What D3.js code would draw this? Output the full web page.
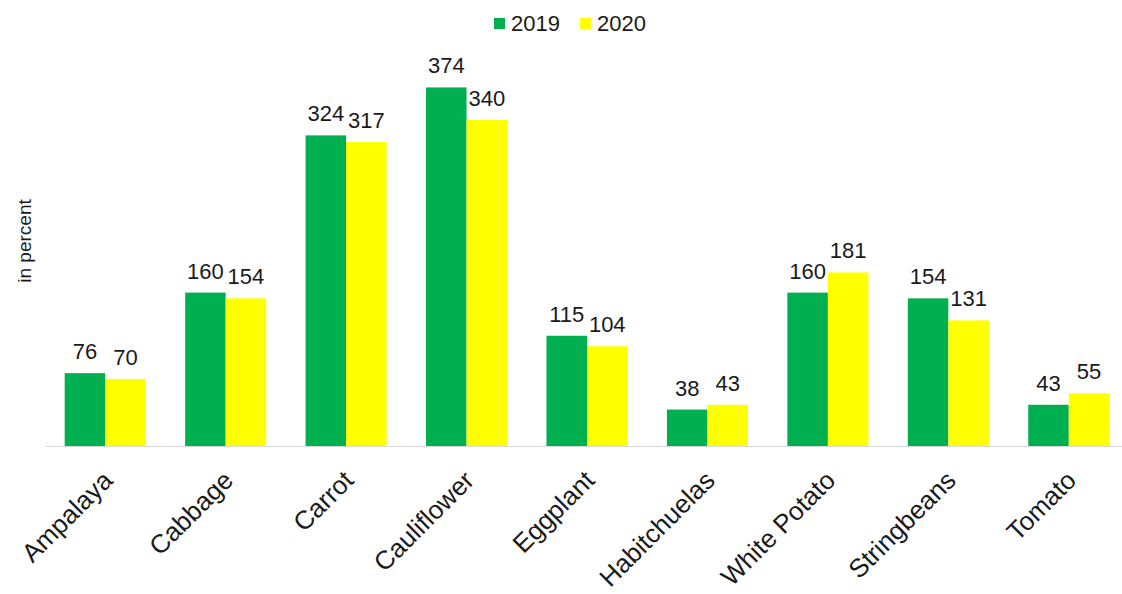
<!DOCTYPE html>
<html>
<head>
<meta charset="utf-8">
<script src="https://cdn.jsdelivr.net/npm/d3@7"></script>
<style>
  body { margin: 0; background: #fff; }
  text { font-family: 'Liberation Sans', Arial, sans-serif; fill: #1a1a1a; }
</style>
</head>
<body>
<div id="chart"></div>
<script>
var categories = ['Ampalaya', 'Cabbage', 'Carrot', 'Cauliflower', 'Eggplant', 'Habitchuelas', 'White Potato', 'Stringbeans', 'Tomato']
var seriesNames = ['2019', '2020']
var values2019 = [76, 160, 324, 374, 115, 38, 160, 154, 43]
var values2020 = [70, 154, 317, 340, 104, 43, 181, 131, 55]
var seriesColors = ['#00b050', '#ffff00']

var width = 1122
var height = 594
var baseY = 446

var svg = d3
  .select('#chart')
  .append('svg')
  .attr('width', width)
  .attr('height', height)

var rows = categories.map(function(c, i) {
  return { cat: c, vals: [values2019[i], values2020[i]] }
})

var x0 = d3
  .scaleBand()
  .domain(categories)
  .range([45, 1129])
  .paddingInner(0.327)
  .paddingOuter(0.1635)

var x1 = d3
  .scaleBand()
  .domain(seriesNames)
  .range([0, x0.bandwidth()])

var y = d3
  .scaleLinear()
  .domain([0, 400])
  .range([baseY, 62.5])

// bars
var groups = svg
  .selectAll('.cat')
  .data(rows)
  .enter()
  .append('g')
  .attr('class', 'cat')
  .attr('transform', d => 'translate(' + x0(d.cat) + ',0)')

groups
  .selectAll('rect')
  .data(d => d.vals.map((v, i) => ({ key: seriesNames[i], value: v, i: i })))
  .enter()
  .append('rect')
  .attr('x', d => x1(d.key))
  .attr('width', x1.bandwidth())
  .attr('y', d => y(d.value))
  .attr('height', d => baseY - y(d.value))
  .attr('fill', d => seriesColors[d.i])

// value labels
groups
  .selectAll('.val')
  .data(d => d.vals.map((v, i) => ({ key: seriesNames[i], value: v })))
  .enter()
  .append('text')
  .attr('class', 'val')
  .attr('x', d => x1(d.key) + x1.bandwidth() / 2)
  .attr('y', d => y(d.value) - 14)
  .attr('text-anchor', 'middle')
  .attr('font-size', 22)
  .text(d => d.value)

// x axis
var xAxis = svg
  .append('g')
  .attr('transform', 'translate(0,' + baseY + ')')
  .call(d3.axisBottom(x0).tickSize(0))

xAxis.select('.domain').attr('stroke', '#d9d9d9').attr('stroke-width', 1.2)

xAxis
  .selectAll('text')
  .attr('x', 0)
  .attr('y', 0)
  .attr('dy', 0)
  .attr('text-anchor', 'end')
  .attr('font-size', 26)
  .attr('font-family', null)
  .attr('transform', 'translate(9,36) rotate(-45)')

// y title
svg
  .append('text')
  .attr('transform', 'translate(31,241) rotate(-90)')
  .attr('text-anchor', 'middle')
  .attr('font-size', 19)
  .text('in percent')

// legend
var legend = svg
  .selectAll('.legend')
  .data(seriesNames)
  .enter()
  .append('g')
  .attr('class', 'legend')
  .attr('transform', (d, i) => 'translate(' + (494 + i * 86) + ',18)')

legend
  .append('rect')
  .attr('width', 11)
  .attr('height', 11)
  .attr('fill', (d, i) => seriesColors[i])

legend
  .append('text')
  .attr('x', 17)
  .attr('y', 13)
  .attr('font-size', 22)
  .text(d => d)
</script>
</body>
</html>
